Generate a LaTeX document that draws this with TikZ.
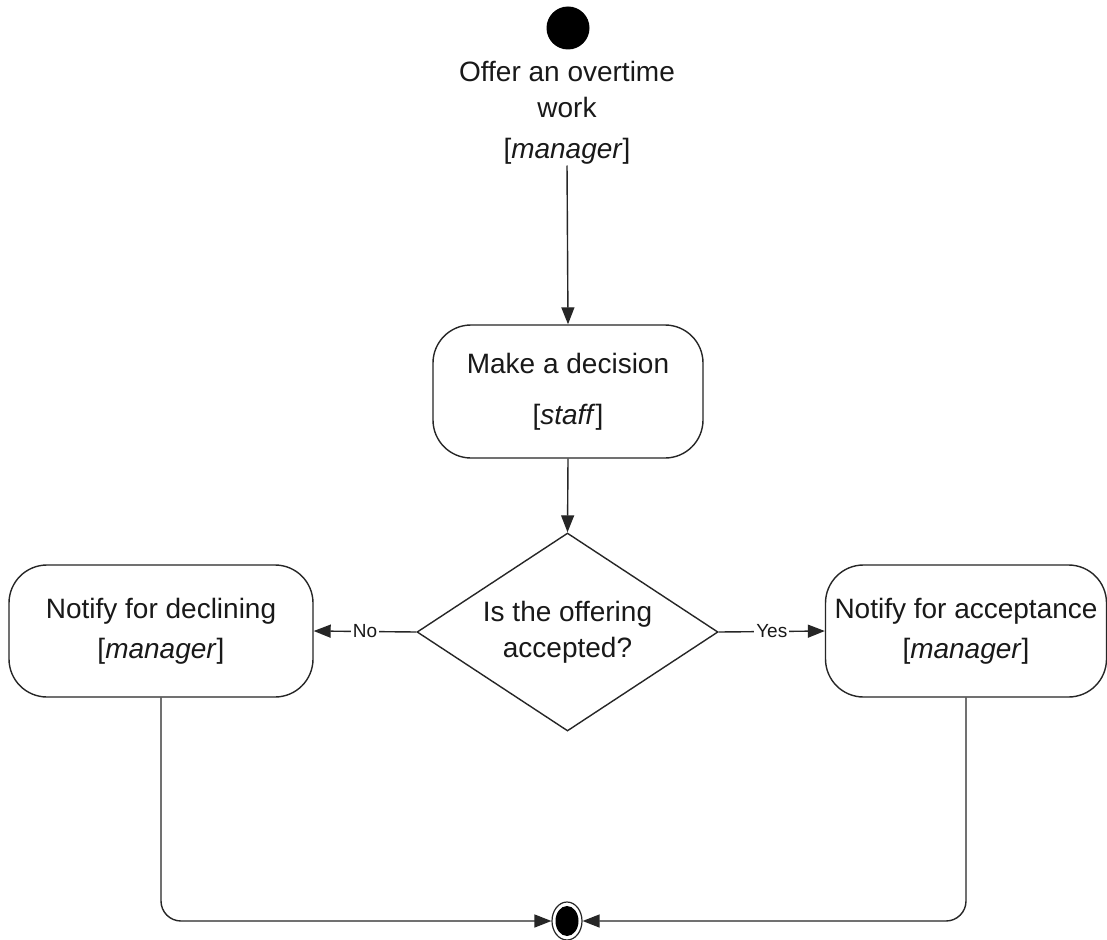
\documentclass[tikz,border=0pt]{standalone}
\usepackage{fontspec}
\setmainfont{Liberation Sans}
\usetikzlibrary{shapes.geometric,arrows.meta}
\begin{document}
\begin{tikzpicture}[x=1pt,y=-1pt,
  line/.style={line width=1.4pt, draw=black!85},
  arr/.style={line, -{Triangle[length=17pt,width=13pt]}},
  actbox/.style={line, rectangle, rounded corners=38pt, align=center, inner sep=0pt, text=black!90},
  lbl/.style={font=\fontsize{19}{22}\selectfont, fill=white, inner sep=2pt, text=black!90},
]
\useasboundingbox[fill=white] (0,0) rectangle (1107,939);
% start
\node[circle, fill=black, minimum size=43pt, inner sep=0pt] (start) at (568,28) {};
\node[align=center, anchor=north, inner sep=0pt, text=black!90, font=\fontsize{28}{36}\selectfont] (offer) at (567,61) {Offer an overtime\\work\\[5pt]{[}\textit{manager}{]}};
% decision activity
\node[actbox, minimum width=270pt, minimum height=133pt, font=\fontsize{28}{51}\selectfont] (decide) at (568,391.5) {Make a decision\\{[}\textit{staff}{]}};
% diamond
\node[diamond, line, aspect=1.52, minimum width=301pt, minimum height=198pt, inner sep=0pt, align=center, text=black!90, font=\fontsize{28}{36}\selectfont] (choice) at (567.5,632) {Is the offering\\accepted?};
% side activities
\node[actbox, minimum width=304pt, minimum height=132pt, font=\fontsize{28}{40}\selectfont] (decline) at (161,631) {Notify for declining\\{[}\textit{manager}{]}};
\node[actbox, minimum width=281pt, minimum height=132pt, font=\fontsize{28}{40}\selectfont] (accept) at (966,631) {Notify for acceptance\\{[}\textit{manager}{]}};
% final
\node[ellipse, draw=black!85, line width=1.2pt, minimum width=30pt, minimum height=38pt, inner sep=0pt,
  path picture={\fill[black] (path picture bounding box.center) ellipse (11.5pt and 15pt);}] (final) at (567,921) {};
% connectors
\draw[arr, shorten <=1pt] (offer.south) -- (decide.north);
\draw[arr] (decide.south) -- (choice.north);
\draw[arr] (choice.west) -- node[lbl] {No} (decline.east);
\draw[arr] (choice.east) -- node[lbl] {Yes} (accept.west);
\draw[arr, rounded corners=20pt] (decline.south) |- (final.west);
\draw[arr, rounded corners=20pt] (accept.south) |- (final.east);
\end{tikzpicture}
\end{document}
